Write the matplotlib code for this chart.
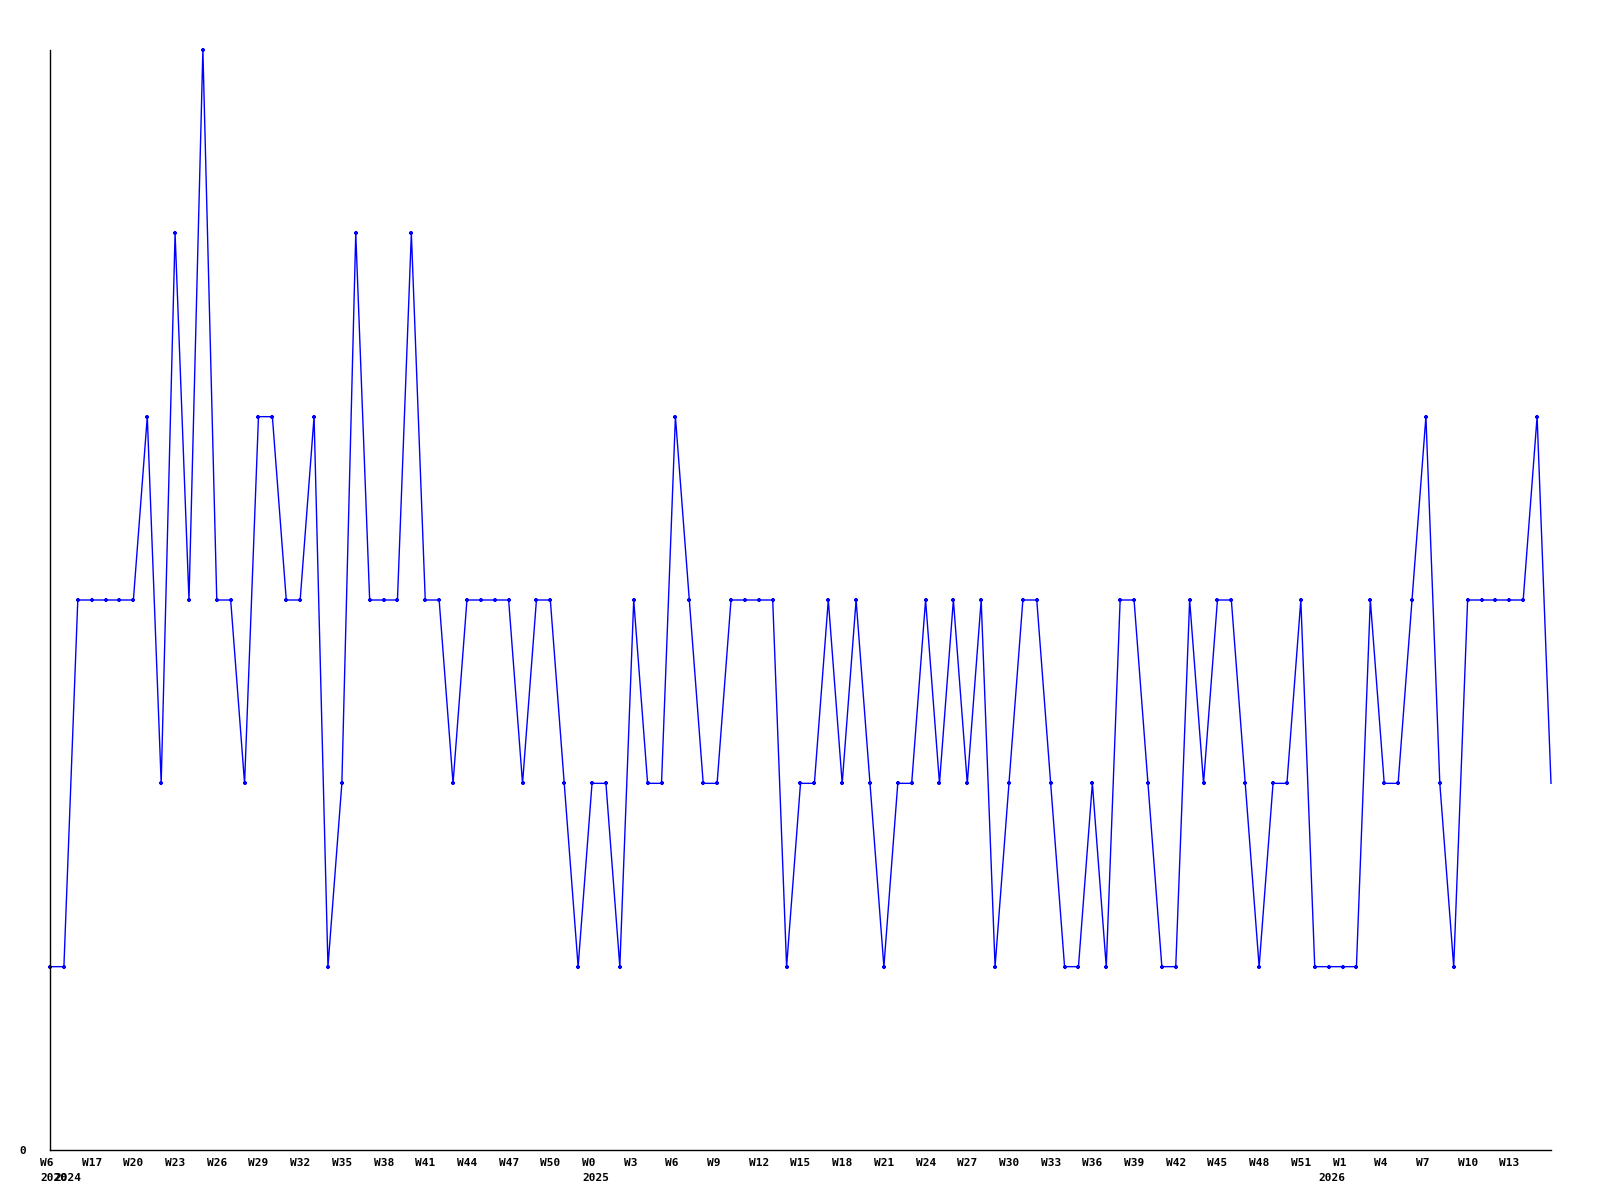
import matplotlib
matplotlib.use("Agg")
import matplotlib.pyplot as plt
from matplotlib.transforms import ScaledTranslation, blended_transform_factory

# weekly counts, one point per week
values = [
    1, 1, 3, 3, 3, 3, 3, 4, 2, 5,
    3, 6, 3, 3, 2, 4, 4, 3, 3, 4,
    1, 2, 5, 3, 3, 3, 5, 3, 3, 2,
    3, 3, 3, 3, 2, 3, 3, 2, 1, 2,
    2, 1, 3, 2, 2, 4, 3, 2, 2, 3,
    3, 3, 3, 1, 2, 2, 3, 2, 3, 2,
    1, 2, 2, 3, 2, 3, 2, 3, 1, 2,
    3, 3, 2, 1, 1, 2, 1, 3, 3, 2,
    1, 1, 3, 2, 3, 3, 2, 1, 2, 2,
    3, 1, 1, 1, 1, 3, 2, 2, 3, 4,
    2, 1, 3, 3, 3, 3, 3, 4, 2,
]

week_labels = [
    "W6", "W17", "W20", "W23", "W26", "W29", "W32", "W35", "W38", "W41",
    "W44", "W47", "W50", "W0", "W3", "W6", "W9", "W12", "W15", "W18",
    "W21", "W24", "W27", "W30", "W33", "W36", "W39", "W42", "W45", "W48",
    "W51", "W1", "W4", "W7", "W10", "W13",
]
week_label_step = 3

year_labels = ["2020", "2024", "2025", "2026"]
year_index = [0, 1, 39, 92]

fig = plt.figure(figsize=(16, 12), dpi=100)
ax = fig.add_axes([50 / 1600, 50 / 1200, 1501 / 1600, 1100 / 1200])

x = list(range(len(values)))
# last point is drawn without a marker
ax.plot(x, values, color="#0000ff", linewidth=1, marker="+",
        markersize=3.5, markeredgewidth=1.6, clip_on=False,
        markevery=list(range(len(values) - 1)))

ax.set_xlim(0, len(values) - 1)
ax.set_ylim(0, max(values))

for side in ["top", "right"]:
    ax.spines[side].set_visible(False)
for side in ["left", "bottom"]:
    ax.spines[side].set_linewidth(1)
    ax.spines[side].set_color("black")

font = dict(family="DejaVu Sans Mono", weight="bold", size=8)

ticks = list(range(0, len(values), week_label_step))[:len(week_labels)]
ax.set_xticks(ticks)
ax.set_xticklabels(week_labels, ha="left", **font)
ax.tick_params(axis="x", length=0, pad=5.5)

shift = ScaledTranslation(-10 / 100, 0, fig.dpi_scale_trans)
for lab in ax.get_xticklabels():
    lab.set_transform(lab.get_transform() + shift)

# year row under the week labels
trans = blended_transform_factory(ax.transData, ax.transAxes)
year_shift = ScaledTranslation(-10 / 100, -23 / 100, fig.dpi_scale_trans)
for idx, yl in zip(year_index, year_labels):
    ax.text(idx, 0, yl, transform=trans + year_shift, ha="left", va="top",
            **font)

ax.set_yticks([0])
ax.set_yticklabels(["0"], **font)
ax.tick_params(axis="y", length=0, pad=17)

fig.savefig("out.png", dpi=100)
